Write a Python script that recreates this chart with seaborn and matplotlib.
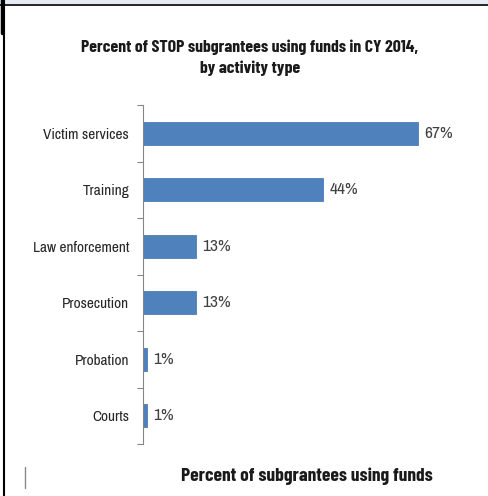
import matplotlib
matplotlib.use("Agg")
import matplotlib.pyplot as plt
import seaborn as sns
import pandas as pd
import numpy as np
from matplotlib import font_manager as fm
from matplotlib.patches import Rectangle
from matplotlib.lines import Line2D

categories = ["Victim services", "Training", "Law enforcement", "Prosecution", "Probation", "Courts"]
values = [67, 44, 13, 13, 1, 1]
value_labels = ["67%", "44%", "13%", "13%", "1%", "1%"]

sns.set_theme(style="white")
fonts = fm.fontManager.ttflist
names = {f.name for f in fonts}
fam = "Archivo Narrow" if "Archivo Narrow" in names else "Liberation Sans"
bold_ok = any(f.name == fam and (f.weight in (700, "bold")) for f in fonts)
bfam = fam if bold_ok else ("Barlow Condensed" if "Barlow Condensed" in names else fam)
plt.rcParams["font.family"] = [fam, "DejaVu Sans"]

W, H = 488, 496
fig = plt.figure(figsize=(W / 100, H / 100), dpi=100)
fig.patch.set_facecolor("white")

ax_left, ax_right, ax_top, ax_bot = 143, 471, 105, 444
ax = fig.add_axes([ax_left / W, (H - ax_bot) / H, (ax_right - ax_left) / W, (ax_bot - ax_top) / H])

df = pd.DataFrame({"cat": categories, "val": values})
sns.barplot(data=df, y="cat", x="val", orient="h", color="#4F81BD", width=0.4,
            edgecolor="#4A7EBB", linewidth=0.6, saturation=1, ax=ax)

ax.set_xlim(0, 80)
ax.set_ylim(len(categories) - 0.5, -0.5)
for i, (v, lab) in enumerate(zip(values, value_labels)):
    ax.text(v + 1.5, i, lab, va="center", ha="left", fontsize=12.5, color="#404040")

for s in ["top", "right", "bottom"]:
    ax.spines[s].set_visible(False)
ax.spines["left"].set_color("#868686")
ax.spines["left"].set_linewidth(0.8)
ax.set_xticks([])
ax.set_yticks(range(len(categories)))
ax.set_yticklabels(categories, fontsize=11, color="#262626")
ax.tick_params(axis="y", which="major", length=0, pad=10)
ax.set_yticks(np.arange(-0.5, len(categories)), minor=True)
ax.tick_params(axis="y", which="minor", length=4, color="#868686", width=0.8, left=True)
ax.set_xlabel("")
ax.set_ylabel("")

fig.text(250 / W, (H - 58) / H, "Percent of STOP subgrantees using funds in CY 2014,\nby activity type",
         ha="center", va="center", fontsize=12.8, fontweight="bold", family=[bfam, "DejaVu Sans"],
         color="#1a1a1a", linespacing=1.45)
fig.text(307 / W, (H - 476) / H, "Percent of subgrantees using funds",
         ha="center", va="center", fontsize=14, fontweight="bold", family=[bfam, "DejaVu Sans"],
         color="#1a1a1a")

# frame decorations
fig.add_artist(Rectangle((0, (H - 4) / H), 1, 4 / H, transform=fig.transFigure, color="#E6EAF2", lw=0))
fig.add_artist(Line2D([0, 1], [(H - 4.5) / H] * 2, transform=fig.transFigure, color="black", lw=1.2))
fig.add_artist(Line2D([4 / W] * 2, [0, 1], transform=fig.transFigure, color="black", lw=1.5))
fig.add_artist(Line2D([2 / W] * 2, [(H - 33) / H, 1], transform=fig.transFigure, color="black", lw=2.5))
fig.add_artist(Line2D([25 / W] * 2, [(H - 488) / H, (H - 467) / H], transform=fig.transFigure, color="#888888", lw=1))

fig.savefig("out.png", dpi=100, facecolor="white")
